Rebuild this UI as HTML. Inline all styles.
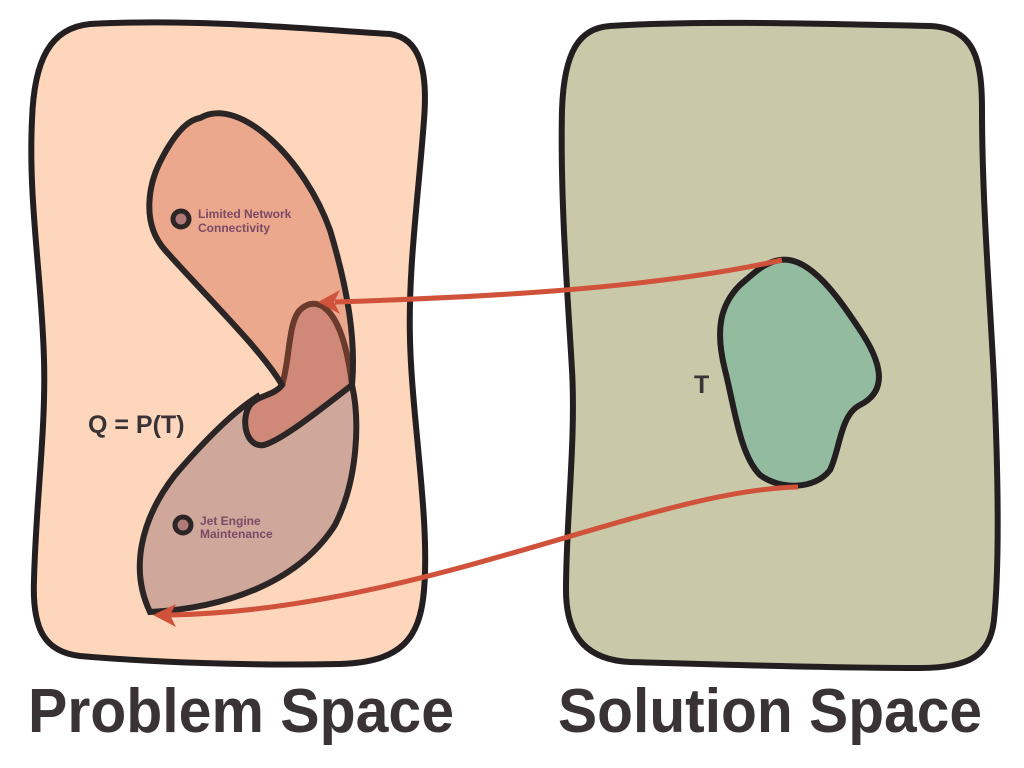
<!DOCTYPE html>
<html><head><style>html,body{margin:0;padding:0;background:#fff;}svg{display:block;}</style></head>
<body>
<svg width="1024" height="768" viewBox="0 0 1024 768" xmlns="http://www.w3.org/2000/svg" font-family="Liberation Sans, sans-serif">
<!-- Problem space -->
<path d="M90,24 C200,18 320,30 390,34 C420,38 428,70 424,120 C418,200 408,270 410,340 C412,420 430,520 424,590 C420,640 400,662 340,664 C250,666 150,662 80,656 C45,652 32,630 34,580 C36,500 46,430 44,360 C42,280 28,200 32,120 C34,60 50,28 90,24 Z" fill="#fdd6bc" stroke="#231f20" stroke-width="6"/>
<!-- Solution space -->
<path d="M610,26 C700,20 830,24 930,26 C975,28 982,60 982,110 C982,200 990,300 994,380 C998,470 1000,560 994,620 C990,655 970,668 920,668 C820,668 700,664 630,662 C590,660 566,640 566,590 C566,520 576,440 572,370 C568,300 560,200 562,110 C564,50 580,28 610,26 Z" fill="#c9c9a9" stroke="#231f20" stroke-width="6"/>
<!-- lower blob -->
<path d="M282,385 C290,360 288,322 300,310 C315,295 342,302 352,380 C360,420 358,480 335,525 C300,580 230,608 150,612 C130,570 140,520 175,475 C205,440 235,410 260,395 C270,390 278,390 282,385 Z" fill="#d0a79b"/>
<!-- upper blob -->
<path d="M200,118 C240,95 305,160 330,230 C348,290 356,340 352,385 C320,410 282,440 264,445 C246,448 240,420 250,405 C258,395 274,396 282,385 C262,350 200,290 165,250 C140,222 150,182 160,162 C175,132 188,120 200,118 Z" fill="#eca88c"/>
<!-- intersection -->
<path d="M282,385 C290,360 288,322 300,310 C315,295 342,302 352,385 C320,410 282,440 264,445 C246,448 240,420 250,405 C258,395 274,396 282,385 Z" fill="#d08878"/>
<path d="M282,385 C290,360 288,322 300,310 C315,295 342,302 352,385" fill="none" stroke="#6a3a2d" stroke-width="6"/>
<!-- strokes -->
<path d="M200,118 C240,95 305,160 330,230 C348,290 356,340 352,385 C320,410 282,440 264,445 C246,448 240,420 250,405 C258,395 274,396 282,385 C262,350 200,290 165,250 C140,222 150,182 160,162 C175,132 188,120 200,118 Z" fill="none" stroke="#2b2526" stroke-width="6"/>
<path d="M352,385 C360,420 358,480 335,525 C300,580 230,608 150,612 C130,570 140,520 175,475 C205,440 235,410 260,395" fill="none" stroke="#2b2526" stroke-width="6"/>
<!-- T blob -->
<path d="M780,260 C810,255 840,300 860,330 C880,360 890,390 860,405 C840,415 840,450 830,470 C815,490 780,490 760,475 C740,455 735,410 725,370 C715,330 720,305 740,285 C755,272 765,262 780,260 Z" fill="#93bba0" stroke="#231f20" stroke-width="6"/>
<!-- arrows -->
<path d="M782,260 C650,290 460,298 335,302" fill="none" stroke="#d0523a" stroke-width="5"/>
<path d="M318,302 L340,290 L334,302 L340,314 Z" fill="#d0523a"/>
<path d="M798,487 C650,490 420,610 170,615" fill="none" stroke="#d0523a" stroke-width="5"/>
<path d="M153,615 L176,604 L170,615 L176,627 Z" fill="#d0523a"/>
<!-- dots -->
<circle cx="181" cy="219" r="8" fill="#b07a7a" stroke="#2b2526" stroke-width="5"/>
<circle cx="183" cy="525" r="8" fill="#b07a7a" stroke="#2b2526" stroke-width="5"/>
<g fill="#7a4a66" font-weight="bold" font-size="12">
<text x="198" y="218">Limited Network</text>
<text x="198" y="232">Connectivity</text>
<text x="200" y="525">Jet Engine</text>
<text x="200" y="538">Maintenance</text>
</g>
<text x="88" y="433" font-size="25" font-weight="bold" fill="#3a3335">Q = P(T)</text>
<text x="694" y="393" font-size="25" font-weight="bold" fill="#3a3335">T</text>
<text x="28" y="732" font-size="62" font-weight="bold" fill="#3a3335" textLength="426" lengthAdjust="spacingAndGlyphs">Problem Space</text>
<text x="558" y="732" font-size="62" font-weight="bold" fill="#3a3335" textLength="424" lengthAdjust="spacingAndGlyphs">Solution Space</text>
</svg>
</body></html>
